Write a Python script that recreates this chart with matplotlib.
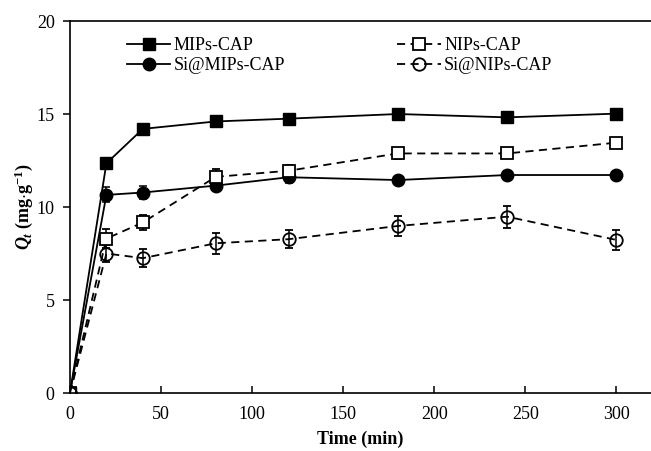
import numpy as np
import matplotlib.pyplot as plt

plt.rcParams['font.family'] = 'Liberation Serif'
plt.rcParams['mathtext.fontset'] = 'custom'
plt.rcParams['mathtext.rm'] = 'Liberation Serif:bold'
plt.rcParams['mathtext.it'] = 'Liberation Serif:italic:bold'
plt.rcParams['mathtext.bf'] = 'Liberation Serif:bold'

t = [0, 20, 40, 80, 120, 180, 240, 300]

mips = [0, 12.35, 14.2, 14.6, 14.75, 15.0, 14.82, 15.02]
mips_err = [0, 0.05, 0.05, 0.05, 0.05, 0.05, 0.05, 0.05]

si_mips = [0, 10.65, 10.78, 11.15, 11.6, 11.45, 11.72, 11.72]
si_mips_err = [0, 0.4, 0.35, 0.3, 0.3, 0.2, 0.2, 0.1]

nips = [0, 8.3, 9.17, 11.62, 11.95, 12.88, 12.88, 13.46]
nips_err = [0, 0.5, 0.4, 0.4, 0.3, 0.3, 0.25, 0.2]

si_nips = [0, 7.5, 7.25, 8.05, 8.27, 8.98, 9.48, 8.23]
si_nips_err = [0, 0.45, 0.5, 0.55, 0.5, 0.55, 0.6, 0.55]

fig = plt.figure(figsize=(6.51, 4.51), dpi=100)
ax = fig.add_axes([0.1075, 0.1286, 0.8925, 0.8248])

common = dict(color='black', ecolor='black', lw=1.3, elinewidth=1.1, capsize=3, capthick=1.1, ms=9)
ax.errorbar(t, mips, yerr=mips_err, fmt='-s', mfc='black', label='MIPs-CAP', **common)
ax.errorbar(t, si_mips, yerr=si_mips_err, fmt='-o', mfc='black', label='Si@MIPs-CAP', **common)
ax.errorbar(t, nips, yerr=nips_err, fmt='--s', mfc='white', mew=1.3, dashes=(4.5, 3), label='NIPs-CAP', **common)
ax.errorbar(t, si_nips, yerr=si_nips_err, fmt='--o', mfc='none', mew=1.3, dashes=(4.5, 3), label='Si@NIPs-CAP', **common)

ax.set_xlim(0, 319)
ax.set_ylim(0, 20)
ax.set_xticks(range(0, 301, 50))
ax.set_yticks(range(0, 21, 5))
ax.spines['right'].set_visible(False)
for s in ['left', 'top', 'bottom']:
    ax.spines[s].set_linewidth(1.2)
ax.tick_params(axis='x', direction='in', length=5, width=1.1, labelsize=13, pad=9)
ax.tick_params(axis='y', direction='out', length=5, width=1.1, labelsize=13, pad=6)

ax.set_xlabel('Time (min)', fontsize=13, fontweight='bold', labelpad=6)
ax.set_ylabel(r'$Q_t$ (mg$\cdot$g$^{-1}$)', fontsize=13, fontweight='bold', labelpad=1)

handles, labels = ax.get_legend_handles_labels()
handles = [h[0] for h in handles]
ax.legend(handles, labels, ncol=2, frameon=False, fontsize=13, loc='upper left',
          bbox_to_anchor=(0.07, 1.0), handlelength=2.4, columnspacing=6.2,
          labelspacing=0.15, handletextpad=0.2)

fig.savefig('out.png', dpi=100)
